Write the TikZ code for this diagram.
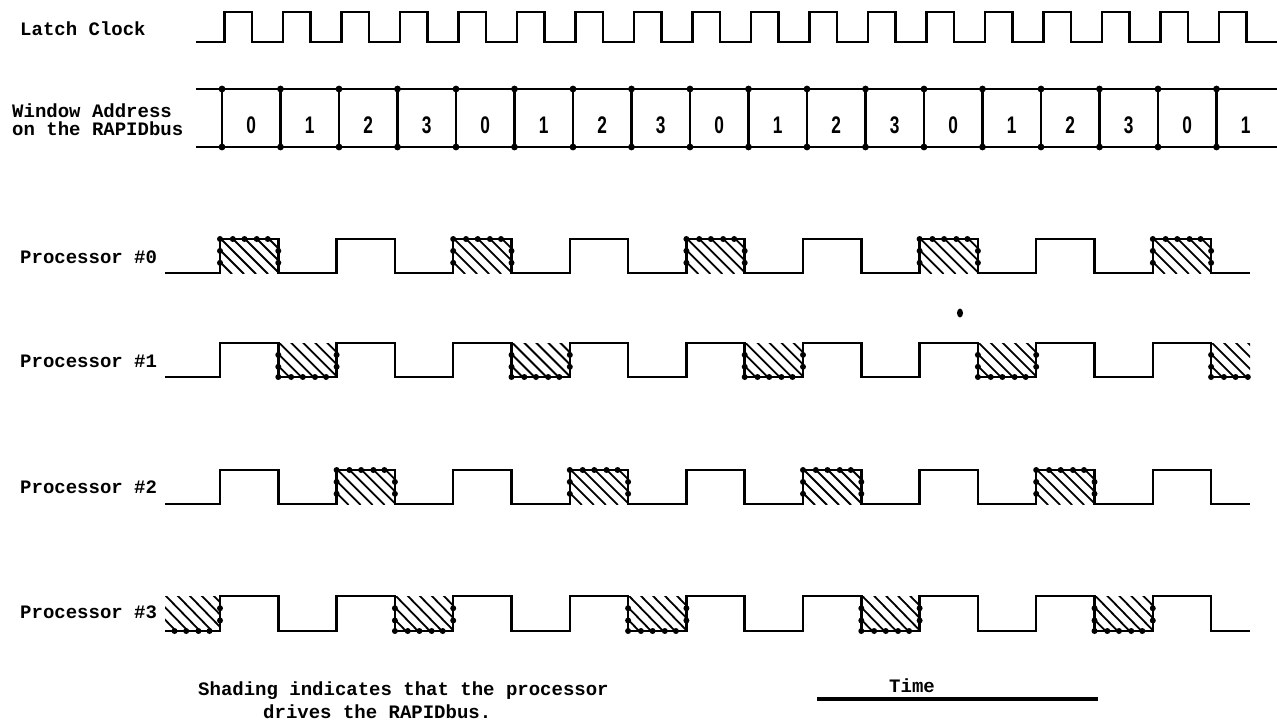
\documentclass[tikz,border=0pt]{standalone}
\usepackage{fontspec}
\setmainfont{Liberation Mono}
\newfontfamily\digitfont{Liberation Sans}
\newcommand\hatchcell[4]{%
  \begin{scope}
    \clip (#1,#3) rectangle (#2,#4);
    \foreach \k in {0,...,9}
      \draw[hatchl] ({#1-36+12*\k},{#3-1}) -- ({#1+12*\k},{#4+1});
  \end{scope}}
\begin{document}
\begin{tikzpicture}[x=1pt,y=-1pt,
  wave/.style={line width=2.5pt,line join=miter},
  hatchl/.style={line width=1.8pt},
  lbl/.style={font=\fontsize{19}{19}\selectfont\bfseries,anchor=west,inner sep=0pt},
  dig/.style={font=\digitfont\bfseries\fontsize{24}{24}\selectfont,xscale=0.72,inner sep=0pt}]
\useasboundingbox (0,0) rectangle (1277,724);

% Latch clock
\node[lbl] (lc) at (20,29) {Latch Clock};
\draw[wave] (196,42) \foreach \i in {0,...,17}{
  -- ({222+58.5*\i+2.5},42) -- ({222+58.5*\i+2.5},12)
  -- ({222+58.5*\i+30},12) -- ({222+58.5*\i+30},42) } -- (1277,42);

% Window address bus
\node[lbl] (wa1) at (12,111) {Window Address};
\node[lbl] (wa2) at (12,129) {on the RAPIDbus};
\draw[wave] (196,89) -- (1277,89);
\draw[wave] (196,147) -- (1277,147);
\foreach \i in {0,...,17}{
  \pgfmathsetmacro\bx{222+58.5*\i}
  \draw[wave] (\bx,89) -- (\bx,147);
  \fill (\bx,89) circle (3.4pt);
  \fill (\bx,147) circle (3.4pt);
  \pgfmathtruncatemacro\d{mod(\i,4)}
  \node[dig] (w\i) at (\bx+29.25,125) {\d};
}

% Processors
\foreach \H/\L/\n/\ly in {239/273/0/257, 343/377/1/361, 470/504/2/487, 596/631/3/612}{
  \node[lbl] (p\n) at (20,\ly) {Processor \#\n};
  \draw[wave] (165,\L) \foreach \i in {0,2,...,16}{
    -- ({220+58.3*\i},\L) -- ({220+58.3*\i},\H)
    -- ({220+58.3*(\i+1)},\H) -- ({220+58.3*(\i+1)},\L) } -- (1250,\L);
  \foreach \c in {-1,...,17}{
    \pgfmathtruncatemacro\m{mod(\c+4,4)}
    \ifnum\m=\n
      \pgfmathsetmacro\bo{220+58.3*\c}
      \pgfmathsetmacro\xa{max(165,\bo)}
      \pgfmathsetmacro\xb{min(1250,\bo+58.3)}
      \hatchcell{\xa}{\xb}{\H}{\L}
      \pgfmathsetmacro\yd{ifthenelse(mod(\c+2,2)==0,\H,\L)}
      \foreach \f in {0,0.22,0.42,0.63,0.82}{
        \pgfmathsetmacro\xx{\bo+\f*58.3}
        \pgfmathtruncatemacro\ok{and(\xx>=164,\xx<=1250)}
        \ifnum\ok=1 \fill (\xx,\yd) circle (3pt); \fi
      }
      \foreach \xx in {\bo,\bo+58.3}{
        \pgfmathtruncatemacro\ok{and(\xx>=164,\xx<=1250)}
        \ifnum\ok=1
          \fill ({\xx},{\H+0.35*(\L-\H)}) circle (3pt);
          \fill ({\xx},{\H+0.7*(\L-\H)}) circle (3pt);
        \fi
      }
    \fi
  }
}

% speck
\fill (960,313) ellipse (3pt and 4.5pt);

% Legend
\node[lbl] (sh1) at (198,691) {Shading indicates that the processor};
\node[lbl] (sh2) at (263,712) {drives the RAPIDbus.};
\node[font=\fontsize{19}{19}\selectfont\bfseries,inner sep=0pt] (tm) at (912,686) {Time};
\coordinate (tl) at (817,699);
\coordinate (tr) at (1098,699);
\draw[line width=3.5pt] (tl) -- (tr);
\end{tikzpicture}
\end{document}
